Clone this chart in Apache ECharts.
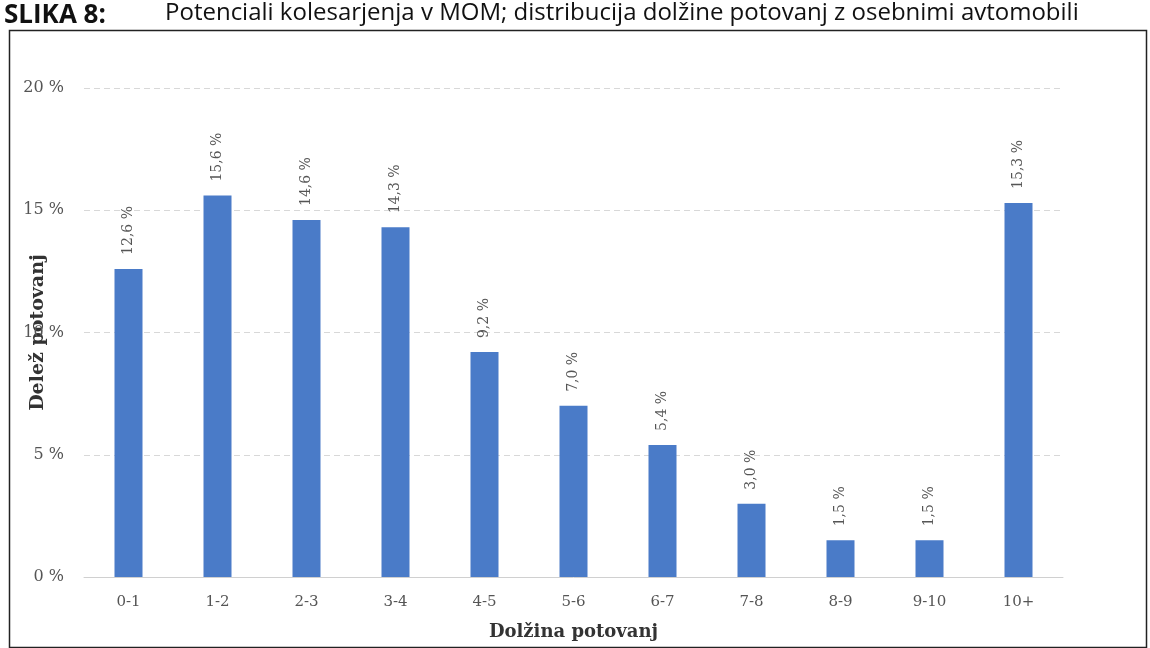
<!DOCTYPE html>
<html>
<head>
<meta charset="utf-8">
<script src="https://cdn.jsdelivr.net/npm/echarts@6/dist/echarts.min.js"></script>
<style>
  html, body { margin: 0; padding: 0; background: #ffffff; }
  #chart { width: 1150px; height: 648px; }
</style>
</head>
<body>
<div id="chart"></div>
<script>
// Trip length classes (km) and share of car trips in each class (%)
const categories = ['0-1', '1-2', '2-3', '3-4', '4-5', '5-6', '6-7', '7-8', '8-9', '9-10', '10+'];
const shares = [12.6, 15.6, 14.6, 14.3, 9.2, 7.0, 5.4, 3.0, 1.5, 1.5, 15.3];
const yTicks = [0, 5, 10, 15, 20];

const figureLabel = 'SLIKA 8:';
const figureTitle = 'Potenciali kolesarjenja v MOM; distribucija dolžine potovanj z osebnimi avtomobili';

const serif = '"DejaVu Serif", "Liberation Serif", serif';
const fmt = v => v.toFixed(1).replace('.', ',') + ' %';

const chart = echarts.init(document.getElementById('chart'));
chart.setOption({
  animation: false,
  backgroundColor: '#ffffff',
  graphic: [
    {
      type: 'text', left: 4, top: 3,
      style: { text: figureLabel, font: 'bold 26px "Open Sans", "Noto Sans", sans-serif', fill: '#111' }
    },
    {
      type: 'text', left: 165, top: 1,
      style: { text: figureTitle, font: '24px "Open Sans", "Noto Sans", sans-serif', fill: '#111' }
    },
    {
      type: 'rect', left: 7, top: 28,
      shape: { width: 1137, height: 617 },
      style: { fill: 'none', stroke: '#222', lineWidth: 1.5 }
    }
  ],
  grid: { left: 84, right: 87, top: 88, bottom: 71, outerBoundsMode: 'none', containLabel: false },
  xAxis: {
    type: 'category',
    data: categories,
    name: 'Dolžina potovanj',
    nameLocation: 'middle',
    nameGap: 46,
    nameMoveOverlap: false,
    nameTextStyle: { fontFamily: serif, fontWeight: 'bold', fontSize: 18, color: '#333' },
    axisLine: { lineStyle: { color: '#d0d0d0' } },
    axisTick: { show: false },
    axisLabel: { fontFamily: serif, fontSize: 15, color: '#555', margin: 18 }
  },
  yAxis: {
    type: 'value',
    min: yTicks[0],
    max: yTicks[yTicks.length - 1],
    interval: 5,
    name: 'Delež potovanj',
    nameLocation: 'middle',
    nameGap: 36,
    nameMoveOverlap: false,
    nameTextStyle: { fontFamily: serif, fontWeight: 'bold', fontSize: 19, color: '#333' },
    axisLine: { show: false },
    axisTick: { show: false },
    axisLabel: {
      fontFamily: serif, fontSize: 16, color: '#555', margin: 20,
      formatter: v => v + ' %'
    },
    splitLine: { lineStyle: { color: '#d8d8d8', type: [6, 4] } }
  },
  series: [{
    type: 'bar',
    data: shares,
    barWidth: 28,
    itemStyle: { color: '#4a7bc8' },
    label: {
      show: true,
      position: 'top',
      rotate: 90,
      align: 'left',
      verticalAlign: 'middle',
      distance: 14,
      fontFamily: serif,
      fontSize: 14,
      color: '#555',
      formatter: p => fmt(p.value)
    }
  }]
});
</script>
</body>
</html>
